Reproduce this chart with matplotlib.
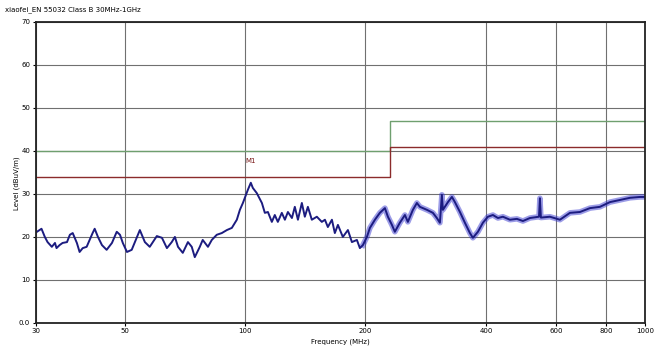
import numpy as np
import matplotlib
matplotlib.use('Agg')
import matplotlib.pyplot as plt

freq = [30.2, 31.0, 31.6, 32.1, 32.9, 33.5, 33.8, 34.4, 35.0, 35.9, 36.5, 37.1, 38.0, 38.6,
        39.3, 40.2, 40.9, 41.6, 42.1, 42.9, 43.9, 45.1, 46.5, 47.8, 48.7, 49.5, 50.7, 52.1,
        53.7, 54.6, 56.2, 57.8, 60.2, 62.0, 63.8, 65.6, 66.8, 68.0, 69.9, 72.0, 73.6, 74.9,
        77.1, 78.4, 80.8, 82.6, 85.0, 87.5, 90.1, 92.7, 95.4, 97.1, 98.8, 101.6, 103.4, 104.6,
        107.0, 110.2, 112.1, 114.1, 116.7, 118.7, 120.8, 123.6, 125.8, 128.0, 131.0, 133.2,
        135.6, 138.7, 141.1, 143.6, 146.9, 151.2, 155.6, 158.4, 161.1, 164.9, 167.7, 170.7,
        175.6, 180.8, 185.0, 190.4, 193.7, 197.1, 201.7, 205.2, 211.2, 217.3, 223.7, 227.6,
        232.9, 236.9, 243.8, 251.0, 255.3, 262.8, 268.9, 273.6, 284.9, 294.9, 301.7, 307.0,
        310.5, 312.3, 321.5, 329.0, 334.7, 344.5, 354.5, 364.9, 371.2, 382.1, 393.2, 404.7,
        416.5, 428.7, 441.2, 459.3, 478.2, 495.0, 515.4, 543.0, 545.9, 549.0, 578.3, 612.5,
        648.8, 687.3, 728.0, 771.1, 816.8, 865.2, 916.5, 970.8, 999.5]
level = [21.2, 21.9, 20.0, 18.8, 17.7, 18.6, 17.4, 18.1, 18.6, 18.8, 20.5, 20.9, 18.6, 16.5,
         17.4, 17.7, 19.3, 20.9, 21.9, 20.0, 18.1, 17.0, 18.6, 21.2, 20.5, 18.6, 16.5, 17.0,
         20.0, 21.6, 18.8, 17.7, 20.2, 19.8, 17.4, 18.8, 20.0, 17.7, 16.3, 18.8, 17.7, 15.3,
         17.7, 19.3, 17.7, 19.3, 20.5, 20.9, 21.6, 22.1, 24.0, 26.3, 27.9, 30.9, 32.6, 31.4,
         30.2, 27.9, 25.6, 25.8, 23.5, 25.1, 23.5, 25.6, 24.0, 25.8, 24.4, 27.0, 24.0, 27.9,
         24.7, 27.0, 24.0, 24.7, 23.5, 24.0, 22.3, 24.0, 20.9, 22.8, 20.0, 21.6, 18.8, 19.3,
         17.4, 18.1, 20.0, 22.1, 24.0, 25.6, 26.7, 24.7, 22.8, 21.2, 23.3, 25.1, 23.5, 26.3,
         27.9, 27.0, 26.3, 25.6, 24.4, 23.3, 29.8, 26.3, 28.1, 29.3, 28.1, 25.8, 23.3, 20.9,
         19.8, 21.2, 23.3, 24.7, 25.1, 24.4, 24.7, 24.0, 24.2, 23.7, 24.4, 24.7, 29.0, 24.5,
         24.7, 24.0, 25.6, 25.8, 26.7, 27.0, 28.1, 28.6, 29.1, 29.3, 29.3]

# limit lines (step at 230 MHz)
limit_f = [30, 230, 230, 1000]
limit_qp = [40, 40, 47, 47]
limit_margin = [34, 34, 41, 41]

xticks = [30, 50, 100, 200, 400, 600, 800, 1000]
yticks = [0, 10, 20, 30, 40, 50, 60, 70]
ylabels = ['0.0', '10', '20', '30', '40', '50', '60', '70']

fig = plt.figure(figsize=(6.63, 3.6), dpi=100)
ax = fig.add_axes([0.054, 0.103, 0.919, 0.836])

ax.plot(limit_f, limit_qp, color='#6f9f6f', lw=1.0)
ax.plot(limit_f, limit_margin, color='#8b2b2b', lw=1.0)

f = np.array(freq)
l = np.array(level)
hi = f >= 195
ax.plot(f[hi], l[hi], color='#3a3ad0', lw=4.0, alpha=0.5, solid_joinstyle='round')
ax.plot(f, l, color='#1c1c80', lw=1.4)

ax.text(100, 37.3, 'M1', color='#7a1a1a', fontsize=5)

ax.set_xscale('log')
ax.set_xlim(30, 1000)
ax.set_ylim(0, 70)
ax.set_xticks(xticks)
ax.set_xticklabels([str(t) for t in xticks], fontsize=5)
ax.minorticks_off()
ax.set_yticks(yticks)
ax.set_yticklabels(ylabels, fontsize=5)
ax.tick_params(length=2.5, width=0.8, pad=1.5)
ax.grid(True, color='#707070', lw=0.8)
for s in ax.spines.values():
    s.set_linewidth(1.3)
    s.set_color('#222222')

ax.set_xlabel('Frequency (MHz)', fontsize=5, labelpad=3)
fig.text(0.026, 0.49, 'Level (dBuV/m)', fontsize=5, rotation=90, ha='center', va='center')
fig.text(0.008, 0.972, 'xiaofei_EN 55032 Class B 30MHz-1GHz', fontsize=5, va='center')

fig.savefig('out.png', dpi=100)
